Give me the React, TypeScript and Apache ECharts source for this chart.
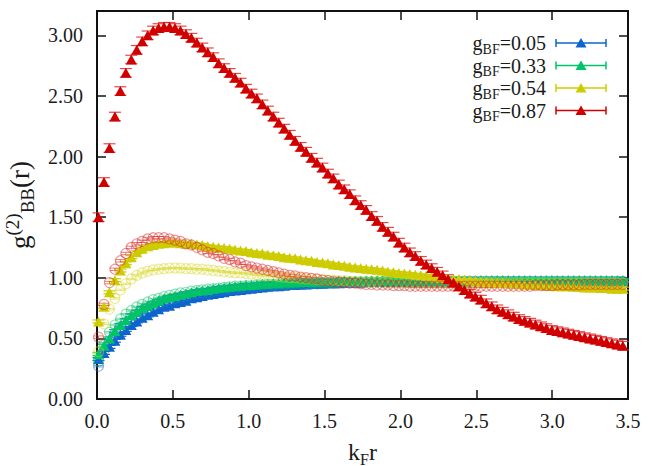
import React, { useEffect, useRef } from 'react';
import * as echarts from 'echarts';

// k_F r grid
const R = [
  0.010, 0.046, 0.082, 0.118, 0.154, 0.190, 0.226, 0.262, 0.298, 0.334,
  0.370, 0.406, 0.442, 0.478, 0.514, 0.550, 0.586, 0.622, 0.658, 0.694,
  0.730, 0.766, 0.802, 0.838, 0.874, 0.910, 0.946, 0.982, 1.018, 1.054,
  1.090, 1.126, 1.162, 1.198, 1.234, 1.270, 1.306, 1.342, 1.378, 1.414,
  1.450, 1.486, 1.522, 1.558, 1.594, 1.630, 1.666, 1.702, 1.738, 1.774,
  1.810, 1.846, 1.882, 1.918, 1.954, 1.990, 2.026, 2.062, 2.098, 2.134,
  2.170, 2.206, 2.242, 2.278, 2.314, 2.350, 2.386, 2.422, 2.458, 2.494,
  2.530, 2.566, 2.602, 2.638, 2.674, 2.710, 2.746, 2.782, 2.818, 2.854,
  2.890, 2.926, 2.962, 2.998, 3.034, 3.070, 3.106, 3.142, 3.178, 3.214,
  3.250, 3.286, 3.322, 3.358, 3.394, 3.430, 3.466,
];

// filled triangles
const TRI_005 = [
  0.33, 0.38, 0.43, 0.48, 0.53, 0.57, 0.61, 0.64, 0.67, 0.69,
  0.72, 0.74, 0.76, 0.77, 0.79, 0.80, 0.81, 0.83, 0.84, 0.85,
  0.86, 0.865, 0.875, 0.88, 0.89, 0.895, 0.90, 0.905, 0.91, 0.915,
  0.92, 0.925, 0.93, 0.93, 0.935, 0.94, 0.94, 0.945, 0.945, 0.95,
  0.95, 0.95, 0.955, 0.955, 0.955, 0.96, 0.96, 0.96, 0.96, 0.965,
  0.965, 0.965, 0.965, 0.97, 0.97, 0.97, 0.97, 0.97, 0.97, 0.97,
  0.97, 0.97, 0.97, 0.97, 0.97, 0.97, 0.97, 0.97, 0.975, 0.975,
  0.975, 0.975, 0.975, 0.975, 0.975, 0.975, 0.975, 0.975, 0.975, 0.975,
  0.975, 0.975, 0.975, 0.975, 0.975, 0.975, 0.975, 0.975, 0.975, 0.975,
  0.975, 0.975, 0.975, 0.975, 0.975, 0.975, 0.975,
];
const TRI_033 = [
  0.37, 0.44, 0.50, 0.56, 0.61, 0.65, 0.69, 0.72, 0.75, 0.77,
  0.79, 0.81, 0.83, 0.84, 0.85, 0.86, 0.87, 0.88, 0.89, 0.895,
  0.90, 0.91, 0.915, 0.92, 0.925, 0.93, 0.935, 0.94, 0.94, 0.945,
  0.95, 0.95, 0.955, 0.955, 0.96, 0.96, 0.96, 0.965, 0.965, 0.965,
  0.97, 0.97, 0.97, 0.97, 0.975, 0.975, 0.975, 0.975, 0.975, 0.975,
  0.98, 0.98, 0.98, 0.98, 0.98, 0.98, 0.98, 0.98, 0.98, 0.98,
  0.98, 0.98, 0.98, 0.98, 0.98, 0.98, 0.98, 0.98, 0.98, 0.98,
  0.98, 0.98, 0.98, 0.98, 0.98, 0.98, 0.98, 0.98, 0.98, 0.98,
  0.98, 0.98, 0.98, 0.98, 0.98, 0.98, 0.98, 0.98, 0.98, 0.98,
  0.98, 0.98, 0.98, 0.98, 0.98, 0.98, 0.98,
];
const TRI_054 = [
  0.64, 0.76, 0.88, 0.98, 1.06, 1.12, 1.17, 1.21, 1.24, 1.26,
  1.27, 1.28, 1.285, 1.29, 1.29, 1.285, 1.28, 1.28, 1.275, 1.27,
  1.26, 1.255, 1.25, 1.245, 1.24, 1.23, 1.225, 1.22, 1.21, 1.205,
  1.20, 1.19, 1.185, 1.18, 1.17, 1.165, 1.16, 1.15, 1.145, 1.14,
  1.13, 1.125, 1.12, 1.11, 1.105, 1.10, 1.09, 1.085, 1.08, 1.075,
  1.07, 1.065, 1.06, 1.05, 1.045, 1.04, 1.035, 1.03, 1.025, 1.02,
  1.015, 1.01, 1.005, 1.00, 0.995, 0.99, 0.99, 0.985, 0.98, 0.975,
  0.97, 0.97, 0.965, 0.96, 0.96, 0.955, 0.95, 0.95, 0.945, 0.945,
  0.94, 0.94, 0.935, 0.935, 0.93, 0.93, 0.93, 0.925, 0.925, 0.92,
  0.92, 0.92, 0.915, 0.915, 0.91, 0.91, 0.91,
];
const TRI_087 = [
  1.50, 1.79, 2.07, 2.33, 2.54, 2.69, 2.80, 2.88, 2.95, 3.00,
  3.04, 3.06, 3.07, 3.07, 3.06, 3.04, 3.01, 2.98, 2.94, 2.90,
  2.86, 2.82, 2.77, 2.73, 2.69, 2.65, 2.61, 2.56, 2.52, 2.48,
  2.43, 2.38, 2.33, 2.28, 2.23, 2.18, 2.13, 2.08, 2.04, 1.99,
  1.95, 1.91, 1.86, 1.82, 1.77, 1.73, 1.69, 1.64, 1.60, 1.56,
  1.51, 1.47, 1.42, 1.38, 1.34, 1.29, 1.25, 1.21, 1.18, 1.14,
  1.11, 1.08, 1.05, 1.02, 0.99, 0.96, 0.93, 0.90, 0.87, 0.845,
  0.82, 0.79, 0.765, 0.74, 0.72, 0.70, 0.68, 0.66, 0.645, 0.63,
  0.615, 0.60, 0.585, 0.57, 0.56, 0.55, 0.54, 0.53, 0.52, 0.51,
  0.50, 0.49, 0.48, 0.47, 0.46, 0.45, 0.44,
];

// open circles
const CIRC_005 = [
  0.27, 0.40, 0.48, 0.54, 0.59, 0.63, 0.67, 0.70, 0.73, 0.75,
  0.77, 0.79, 0.80, 0.82, 0.83, 0.84, 0.85, 0.86, 0.87, 0.875,
  0.88, 0.89, 0.895, 0.90, 0.905, 0.91, 0.915, 0.92, 0.92, 0.925,
  0.93, 0.93, 0.935, 0.935, 0.94, 0.94, 0.945, 0.945, 0.95, 0.95,
  0.95, 0.955, 0.955, 0.955, 0.96, 0.96, 0.96, 0.96, 0.96, 0.965,
  0.965, 0.965, 0.965, 0.965, 0.965, 0.965, 0.97, 0.97, 0.97, 0.97,
  0.97, 0.97, 0.97, 0.97, 0.97, 0.97, 0.97, 0.97, 0.97, 0.97,
  0.97, 0.97, 0.97, 0.97, 0.97, 0.97, 0.97, 0.97, 0.97, 0.97,
  0.97, 0.97, 0.97, 0.97, 0.97, 0.97, 0.97, 0.97, 0.97, 0.97,
  0.97, 0.97, 0.97, 0.97, 0.97, 0.97, 0.97,
];
const CIRC_033 = [
  0.31, 0.46, 0.55, 0.61, 0.66, 0.70, 0.73, 0.76, 0.78, 0.80,
  0.82, 0.83, 0.845, 0.855, 0.865, 0.875, 0.88, 0.89, 0.895, 0.90,
  0.905, 0.91, 0.915, 0.92, 0.925, 0.93, 0.93, 0.935, 0.935, 0.94,
  0.94, 0.945, 0.945, 0.95, 0.95, 0.95, 0.955, 0.955, 0.955, 0.96,
  0.96, 0.96, 0.96, 0.96, 0.96, 0.965, 0.965, 0.965, 0.965, 0.965,
  0.965, 0.965, 0.965, 0.965, 0.97, 0.97, 0.97, 0.97, 0.97, 0.97,
  0.97, 0.97, 0.97, 0.97, 0.97, 0.97, 0.97, 0.97, 0.97, 0.97,
  0.97, 0.97, 0.97, 0.97, 0.97, 0.97, 0.97, 0.97, 0.97, 0.97,
  0.97, 0.97, 0.97, 0.97, 0.97, 0.97, 0.97, 0.97, 0.97, 0.97,
  0.97, 0.97, 0.97, 0.97, 0.97, 0.97, 0.97,
];
const CIRC_054 = [
  0.39, 0.62, 0.74, 0.83, 0.90, 0.95, 0.99, 1.02, 1.04, 1.055,
  1.065, 1.07, 1.075, 1.08, 1.08, 1.08, 1.075, 1.075, 1.07, 1.07,
  1.065, 1.06, 1.055, 1.05, 1.045, 1.04, 1.04, 1.035, 1.03, 1.025,
  1.02, 1.02, 1.015, 1.01, 1.005, 1.00, 1.00, 0.995, 0.99, 0.99,
  0.985, 0.985, 0.98, 0.98, 0.975, 0.975, 0.97, 0.97, 0.97, 0.965,
  0.965, 0.965, 0.96, 0.96, 0.96, 0.96, 0.96, 0.96, 0.955, 0.955,
  0.955, 0.955, 0.955, 0.955, 0.955, 0.955, 0.955, 0.955, 0.955, 0.955,
  0.955, 0.955, 0.955, 0.955, 0.955, 0.955, 0.955, 0.955, 0.955, 0.955,
  0.955, 0.955, 0.955, 0.955, 0.955, 0.955, 0.955, 0.955, 0.955, 0.955,
  0.955, 0.955, 0.955, 0.955, 0.955, 0.955, 0.955,
];
const CIRC_087 = [
  0.51, 0.78, 0.96, 1.07, 1.14, 1.20, 1.25, 1.28, 1.30, 1.32,
  1.33, 1.33, 1.33, 1.32, 1.31, 1.30, 1.28, 1.27, 1.25, 1.23,
  1.21, 1.20, 1.18, 1.16, 1.15, 1.13, 1.12, 1.10, 1.09, 1.08,
  1.07, 1.06, 1.05, 1.04, 1.03, 1.02, 1.015, 1.005, 1.00, 0.995,
  0.99, 0.98, 0.975, 0.97, 0.965, 0.96, 0.955, 0.955, 0.95, 0.945,
  0.945, 0.94, 0.94, 0.94, 0.935, 0.935, 0.935, 0.93, 0.93, 0.93,
  0.93, 0.93, 0.93, 0.93, 0.93, 0.93, 0.93, 0.93, 0.93, 0.93,
  0.93, 0.93, 0.93, 0.93, 0.93, 0.93, 0.93, 0.93, 0.93, 0.93,
  0.935, 0.935, 0.935, 0.935, 0.94, 0.94, 0.94, 0.94, 0.94, 0.945,
  0.945, 0.945, 0.945, 0.945, 0.945, 0.945, 0.945,
];

// error-bar half-widths
const ERR_TRI = [0.012, 0.012, 0.012, 0.035];
const ERR_CIRC = [0.006, 0.006, 0.006, 0.01];

const LABELS = ['0.05', '0.33', '0.54', '0.87'];
const COLORS = ['#0c64cc', '#00c468', '#cccc00', '#d00000'];
const CIRC_COLORS = ['rgba(40,120,210,0.6)', 'rgba(0,190,100,0.55)', 'rgba(215,215,40,0.6)', 'rgba(220,40,40,0.6)'];
const TRIS = [TRI_005, TRI_033, TRI_054, TRI_087];
const CIRCS = [CIRC_005, CIRC_033, CIRC_054, CIRC_087];

const X_MIN = 0;
const X_MAX = 3.5;
const Y_MIN = 0;
const Y_MAX = 3.2;

const FONT = '"Liberation Serif", "Times New Roman", serif';
const TXT = '#1a1a1a';

function errSeries(ys: number[], err: number, color: string, capHalf: number, width: number) {
  return {
    type: 'custom',
    silent: true,
    data: R.map((x, i) => [x, ys[i] - err, ys[i] + err]),
    encode: { x: 0, y: [1, 2] },
    renderItem: (_p: any, api: any) => {
      const x = api.value(0);
      const lo = api.coord([x, api.value(1)]);
      const hi = api.coord([x, api.value(2)]);
      const st = { stroke: color, lineWidth: width };
      return {
        type: 'group',
        children: [
          { type: 'line', shape: { x1: lo[0], y1: lo[1], x2: hi[0], y2: hi[1] }, style: st },
          { type: 'line', shape: { x1: lo[0] - capHalf, y1: lo[1], x2: lo[0] + capHalf, y2: lo[1] }, style: st },
          { type: 'line', shape: { x1: hi[0] - capHalf, y1: hi[1], x2: hi[0] + capHalf, y2: hi[1] }, style: st },
        ],
      };
    },
    z: 2,
  };
}

function triSeries(i: number) {
  return {
    type: 'scatter',
    name: 'tri' + LABELS[i],
    symbol: 'triangle',
    symbolSize: [11, 10],
    data: R.map((x, k) => [x, TRIS[i][k]]),
    itemStyle: { color: COLORS[i], opacity: 1 },
    z: 3,
  };
}

function circSeries(i: number) {
  return {
    type: 'scatter',
    name: 'circ' + LABELS[i],
    symbol: 'circle',
    symbolSize: 10,
    data: R.map((x, k) => [x, CIRCS[i][k]]),
    itemStyle: { color: 'rgba(0,0,0,0)', borderColor: CIRC_COLORS[i], borderWidth: 1.2 },
    z: 3,
  };
}

function buildOption() {
  const series: any[] = [];
  const order: [string, number][] = [
    ['t', 0], ['c', 0], ['t', 1], ['c', 1], ['t', 2], ['c', 2], ['c', 3], ['t', 3],
  ];
  for (const [kind, i] of order) {
    if (kind === 't') {
      series.push(errSeries(TRIS[i], ERR_TRI[i], i === 3 ? 'rgba(225,40,40,0.85)' : COLORS[i], 6, 1.2));
      series.push(triSeries(i));
    } else {
      series.push(errSeries(CIRCS[i], ERR_CIRC[i], CIRC_COLORS[i], 5, 1));
      series.push(circSeries(i));
    }
  }

  const axisLine = { show: true, onZero: false, lineStyle: { color: '#111', width: 2 } };
  const axisTick = { show: true, inside: true, length: 9, lineStyle: { color: '#111', width: 1.5 } };

  const legendY = [43, 65.5, 88, 110.5];
  const graphic: any[] = [];
  LABELS.forEach((lab, i) => {
    const y = legendY[i];
    const c = COLORS[i];
    graphic.push({
      type: 'text',
      x: 546,
      y,
      style: {
        text: `{m|g}{s|BF}{m|=${lab}}`,
        align: 'right',
        verticalAlign: 'middle',
        rich: {
          m: { fontSize: 20, lineHeight: 26, fontFamily: FONT, fill: TXT },
          s: { fontSize: 14, lineHeight: 14, verticalAlign: 'bottom', fontFamily: FONT, fill: TXT },
        },
      },
    });
    graphic.push({ type: 'line', shape: { x1: 556, y1: y, x2: 606, y2: y }, style: { stroke: c, lineWidth: 1.5 } });
    graphic.push({ type: 'line', shape: { x1: 556, y1: y - 4, x2: 556, y2: y + 4 }, style: { stroke: c, lineWidth: 1.5 } });
    graphic.push({ type: 'line', shape: { x1: 606, y1: y - 4, x2: 606, y2: y + 4 }, style: { stroke: c, lineWidth: 1.5 } });
    graphic.push({
      type: 'polygon',
      shape: { points: [[575.5, y + 4.5], [586.5, y + 4.5], [581, y - 5]] },
      style: { fill: c },
    });
  });

  return {
    animation: false,
    backgroundColor: '#ffffff',
    grid: { left: 97, right: 22, top: 11, bottom: 67, containLabel: false, outerBoundsMode: 'none' },
    xAxis: [
      {
        type: 'value',
        min: X_MIN,
        max: X_MAX,
        interval: 0.5,
        position: 'bottom',
        axisLine,
        axisTick,
        splitLine: { show: false },
        axisLabel: {
          formatter: (v: number) => v.toFixed(1),
          fontSize: 20,
          fontFamily: FONT,
          color: TXT,
          margin: 12,
        },
        name: '{m|k}{s|F}{m|r}',
        nameLocation: 'middle',
        nameGap: 38,
        nameTextStyle: {
          rich: {
            m: { fontSize: 24, lineHeight: 30, fontFamily: FONT, color: TXT },
            s: { fontSize: 16, lineHeight: 16, verticalAlign: 'bottom', fontFamily: FONT, color: TXT },
          },
        },
      },
      {
        type: 'value',
        min: X_MIN,
        max: X_MAX,
        interval: 0.5,
        position: 'top',
        axisLine,
        axisTick,
        splitLine: { show: false },
        axisLabel: { show: false },
      },
    ],
    yAxis: [
      {
        type: 'value',
        min: Y_MIN,
        max: Y_MAX,
        interval: 0.5,
        position: 'left',
        axisLine,
        axisTick,
        splitLine: { show: false },
        axisLabel: {
          formatter: (v: number) => (v > 3.1 ? '' : v.toFixed(2)),
          showMaxLabel: false,
          fontSize: 20,
          fontFamily: FONT,
          color: TXT,
          margin: 14,
        },
        name: '{m|g}{p|(2)}{s|BB}{m|(r)}',
        nameLocation: 'middle',
        nameRotate: 90,
        nameGap: 48,
        nameTextStyle: {
          rich: {
            m: { fontSize: 27, lineHeight: 34, fontFamily: FONT, color: TXT },
            p: { fontSize: 19, lineHeight: 19, verticalAlign: 'top', fontFamily: FONT, color: TXT },
            s: { fontSize: 19, lineHeight: 19, verticalAlign: 'bottom', fontFamily: FONT, color: TXT },
          },
        },
      },
      {
        type: 'value',
        min: Y_MIN,
        max: Y_MAX,
        interval: 0.5,
        position: 'right',
        axisLine,
        axisTick,
        splitLine: { show: false },
        axisLabel: { show: false },
      },
    ],
    series,
    graphic,
  };
}

export default function App() {
  const ref = useRef<HTMLDivElement>(null);
  useEffect(() => {
    if (!ref.current) return;
    const chart = echarts.init(ref.current, null, { renderer: 'svg' });
    chart.setOption(buildOption() as any);
    return () => chart.dispose();
  }, []);
  return (
    <div
      ref={ref}
      style={{ position: 'absolute', left: 0, top: 0, width: 650, height: 466, background: '#fff' }}
    />
  );
}
